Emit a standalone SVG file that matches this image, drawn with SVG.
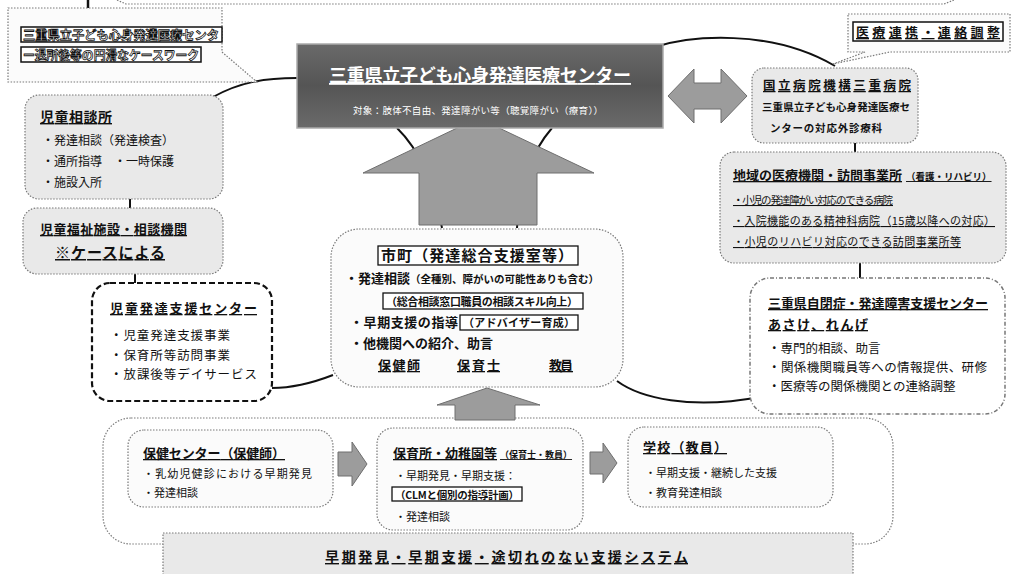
<svg xmlns="http://www.w3.org/2000/svg" width="1012" height="574" viewBox="0 0 1012 574">
<style>
.t{font-family:"Noto Sans CJK JP","Noto Sans CJK SC",sans-serif;fill:#111}
.b{font-weight:bold}
.u{text-decoration:underline}
.gbox{fill:#e9e9e9;stroke:#7a7a7a;stroke-width:1.2;stroke-dasharray:1.5 1.5}
.wbox{fill:#fbfbfb;stroke:#7a7a7a;stroke-width:1.2;stroke-dasharray:1.5 1.5}
.conn{fill:none;stroke:#111;stroke-width:2}
.arr{fill:#9c9c9c;stroke:#6e6e6e;stroke-width:1}
.hollow{fill:#fff;stroke:#111;stroke-width:0.8;font-weight:bold}
</style>
<rect width="1012" height="574" fill="#fff"/>

<!-- top edge remnant -->
<g id="top-edge">
<path d="M117,0 L126,4 H944 L954,0" fill="none" stroke="#7a7a7a" stroke-width="1.2" stroke-dasharray="1.5 1.5"/>
<line x1="88" y1="0" x2="88" y2="8" stroke="#111" stroke-width="2.5"/>
</g>

<g id="connectors">
<path class="conn" d="M213,97 C240,82 265,78 297,78"/>
<path class="conn" d="M655,47 C690,36 770,28 835,66"/>
<path class="conn" d="M272,388 C295,388 315,382 333,375"/>
<path class="conn" d="M617,381 C640,398 690,410 760,397"/>
<path class="conn" d="M397,128 Q430,160 442,228"/>
<path class="conn" d="M552,128 Q520,165 517,228"/>
<line class="conn" x1="130" y1="198" x2="130" y2="209" stroke-width="1.5"/>
<line class="conn" x1="135" y1="274" x2="135" y2="284" stroke-width="1.5"/>
<line class="conn" x1="855" y1="142" x2="855" y2="153" stroke-width="1.5"/>
<line class="conn" x1="860" y1="262" x2="860" y2="279" stroke-width="1.5"/>
</g>

<!-- big up arrow -->
<g id="arrow-up-main">
<path class="arr" d="M419,225 V173 H363 L478,118 L594,173 H537 V225 Z"/>
</g>

<!-- left callout -->
<g id="callout-left">
<path class="wbox" d="M8,8 H222 V52 L257,82 L232,82 H8 Z"/>
<rect x="21" y="27" width="201" height="15" fill="#fff" stroke="#111" stroke-width="1.5"/>
<text class="t hollow" x="23" y="39.5" font-size="12" textLength="196" lengthAdjust="spacingAndGlyphs">三重県立子ども心身発達医療センタ</text>
<rect x="21" y="47" width="180" height="15" fill="#fff" stroke="#111" stroke-width="1.5"/>
<text class="t hollow" x="23" y="59.5" font-size="12" textLength="176" lengthAdjust="spacingAndGlyphs">ー退所後等の円滑なケースワーク</text>
</g>

<!-- center box -->
<g id="center">
<defs>
<linearGradient id="dg" x1="0" y1="0" x2="0" y2="1">
<stop offset="0" stop-color="#6a6a6a"/>
<stop offset="0.5" stop-color="#555"/>
<stop offset="1" stop-color="#6a6a6a"/>
</linearGradient>
</defs>
<rect x="297" y="44" width="366" height="84" fill="url(#dg)" stroke="#aaa" stroke-width="1.5"/>
<text class="t b u" x="480" y="82" font-size="18" text-anchor="middle" style="fill:#fff" textLength="302">三重県立子ども心身発達医療センター</text>
<text class="t" x="478" y="114" font-size="9.5" text-anchor="middle" style="fill:#fff" textLength="250">対象：肢体不自由、発達障がい等（聴覚障がい（療育））</text>
</g>

<!-- double arrow -->
<g id="arrow-double">
<path class="arr" d="M668,96 L694,69 V83 H721 V69 L747,96 L721,123 V109 H694 V123 Z"/>
</g>

<!-- right callout -->
<g id="callout-right">
<path class="wbox" d="M848,14 H1010 V52 H890 L833,64 L865,52 H848 Z"/>
<rect x="853" y="22" width="150" height="19" fill="#fff" stroke="#111" stroke-width="1.5"/>
<text class="t b u" x="856" y="37" font-size="13" textLength="144">医療連携・連絡調整</text>
</g>

<!-- national hospital -->
<g id="hospital">
<rect class="gbox" x="752" y="68" width="166" height="75" rx="12"/>
<text class="t b u" x="763" y="90" font-size="12.5" textLength="148">国立病院機構三重病院</text>
<text class="t b" x="762" y="111" font-size="10.5" textLength="148">三重県立子ども心身発達医療セ</text>
<text class="t b" x="770" y="132" font-size="10.5" textLength="112">ンターの対応外診療科</text>
</g>

<!-- regional medical -->
<g id="regional">
<rect class="gbox" x="720" y="152" width="286" height="111" rx="14"/>
<text class="t b u" x="733" y="180"><tspan font-size="13">地域の医療機関・訪問事業所</tspan><tspan font-size="9.5" dx="4">（看護・リハビリ）</tspan></text>
<text class="t u" x="733" y="204" font-size="10.5" textLength="160">・小児の発達障がい対応のできる病院</text>
<text class="t u" x="733" y="225" font-size="11" textLength="262">・入院機能のある精神科病院（15歳以降への対応）</text>
<text class="t u" x="733" y="246" font-size="11" textLength="228">・小児のリハビリ対応のできる訪問事業所等</text>
</g>

<!-- autism center -->
<g id="autism">
<rect x="750" y="278" width="255" height="136" rx="20" fill="#fff" stroke="#777" stroke-width="1.5" stroke-dasharray="4 2 1 2"/>
<text class="t b u" x="768" y="308" font-size="13" textLength="220">三重県自閉症・発達障害支援センター</text>
<text class="t b u" x="768" y="329" font-size="13" textLength="100">あさけ、れんげ</text>
<text class="t" x="768" y="353" font-size="12.5">・専門的相談、助言</text>
<text class="t" x="768" y="372" font-size="12.5" textLength="219">・関係機関職員等への情報提供、研修</text>
<text class="t" x="768" y="391" font-size="12.5">・医療等の関係機関との連絡調整</text>
</g>

<!-- child guidance -->
<g id="jido-sodanjo">
<rect class="gbox" x="25" y="95" width="198" height="104" rx="14"/>
<text class="t b u" x="40" y="122" font-size="14" textLength="72">児童相談所</text>
<text class="t" x="42" y="145" font-size="12">・発達相談（発達検査）</text>
<text class="t" x="42" y="166" font-size="12">・通所指導　・一時保護</text>
<text class="t" x="42" y="187" font-size="12">・施設入所</text>
</g>

<g id="jido-fukushi">
<rect class="gbox" x="23" y="208" width="200" height="66" rx="14"/>
<text class="t b u" x="40" y="234" font-size="13" textLength="147">児童福祉施設・相談機関</text>
<text class="t b u" x="55" y="258" font-size="15" textLength="110">※ケースによる</text>
</g>

<g id="jido-hattatsu">
<rect x="92" y="283" width="180" height="118" rx="18" fill="#fff" stroke="#111" stroke-width="2.2" stroke-dasharray="6 3"/>
<text class="t b u" x="110" y="313" font-size="13" textLength="147">児童発達支援センター</text>
<text class="t" x="110" y="340" font-size="12.5" textLength="120">・児童発達支援事業</text>
<text class="t" x="110" y="360" font-size="12.5" textLength="120">・保育所等訪問事業</text>
<text class="t" x="110" y="379" font-size="12.5" textLength="147">・放課後等デイサービス</text>
</g>

<!-- city -->
<g id="city">
<rect class="wbox" x="331" y="229" width="292" height="158" rx="28"/>
<rect x="378" y="246" width="200" height="19" fill="#fff" stroke="#111" stroke-width="1.3"/>
<text class="t b" x="381" y="261" font-size="15" textLength="192">市町（発達総合支援室等）</text>
<text class="t b" x="345" y="283"><tspan font-size="13">・発達相談</tspan><tspan font-size="10.5">（全種別、障がいの可能性ありも含む）</tspan></text>
<rect x="383" y="293" width="200" height="16" fill="#fff" stroke="#111" stroke-width="1.3"/>
<text class="t b" x="386" y="305.5" font-size="11" textLength="192">（総合相談窓口職員の相談スキル向上）</text>
<text class="t b" x="350" y="327" font-size="13" textLength="108">・早期支援の指導</text>
<rect x="460" y="315" width="118" height="15" fill="#fff" stroke="#111" stroke-width="1.3"/>
<text class="t b" x="463" y="326.5" font-size="11" textLength="112">（アドバイザー育成）</text>
<text class="t b" x="350" y="348" font-size="13">・他機関への紹介、助言</text>
<text class="t b u" x="378" y="370" font-size="13" textLength="42">保健師</text>
<text class="t b u" x="457" y="370" font-size="13" textLength="43">保育士</text>
<text class="t b u" x="549" y="370" font-size="13" textLength="24">教員</text>
</g>

<!-- bottom system frame -->
<g id="system-frame">
<rect class="wbox" x="103" y="418" width="790" height="126" rx="28" style="fill:#fff"/>
</g>

<g id="arrow-up-small">
<path class="arr" d="M455,420 V405 H437 L487,388 L540,405 H515 V420 Z"/>
</g>

<g id="system-label">
<rect class="gbox" x="163" y="533" width="690" height="45"/>
<text class="t b u" x="325" y="562" font-size="14" textLength="363">早期発見・早期支援・途切れのない支援システム</text>
</g>

<g id="hoken-center">
<rect class="wbox" x="128" y="430" width="205" height="77" rx="16"/>
<text class="t b u" x="143" y="458" font-size="13" textLength="142">保健センター（保健師）</text>
<text class="t" x="143" y="478" font-size="11" textLength="169">・乳幼児健診における早期発見</text>
<text class="t" x="143" y="497" font-size="11">・発達相談</text>
</g>

<g id="arrow-right-1">
<path class="arr" d="M338,452 H352 V442 L367,464 L352,486 V476 H338 Z"/>
</g>

<g id="hoikusho">
<rect class="wbox" x="377" y="428" width="206" height="102" rx="16"/>
<text class="t b u" x="393" y="458"><tspan font-size="13">保育所・幼稚園等</tspan><tspan font-size="9" dx="3">（保育士・教員）</tspan></text>
<text class="t" x="395" y="480" font-size="11">・早期発見・早期支援：</text>
<rect x="392" y="487" width="130" height="14" fill="#fff" stroke="#111" stroke-width="1.3"/>
<text class="t b" x="395" y="498.5" font-size="10.5" textLength="124">（CLMと個別の指導計画）</text>
<text class="t" x="395" y="521" font-size="11">・発達相談</text>
</g>

<g id="arrow-right-2">
<path class="arr" d="M590,452 H603 V443 L617,463 L603,483 V474 H590 Z"/>
</g>

<g id="gakko">
<rect class="wbox" x="628" y="427" width="205" height="80" rx="16"/>
<text class="t b u" x="643" y="452" font-size="13" textLength="84">学校（教員）</text>
<text class="t" x="645" y="477" font-size="11">・早期支援・継続した支援</text>
<text class="t" x="645" y="497" font-size="11">・教育発達相談</text>
</g>
</svg>
